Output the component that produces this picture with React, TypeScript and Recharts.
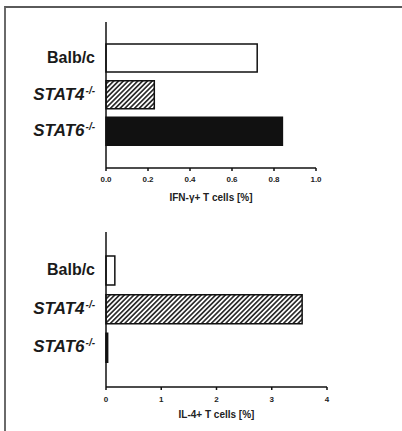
import React from 'react';
import { BarChart, Bar, XAxis, YAxis, Cell } from 'recharts';

// strains on the y axis, knockouts get an italic name with a -/- superscript
const strainNames = ['Balb/c', 'STAT4', 'STAT6'];
const strainSup = ['', '-/-', '-/-'];

// IFN-gamma+ T cells [%]
const ifnValues = [0.72, 0.23, 0.84];
const ifnTicks = [0, 0.2, 0.4, 0.6, 0.8, 1.0];

// IL-4+ T cells [%]
const il4Values = [0.16, 3.55, 0.03];
const il4Ticks = [0, 1, 2, 3, 4];

const barFills = ['#ffffff', 'url(#hatch)', '#111111'];

const ifnData = strainNames.map((name, i) => ({ name, value: ifnValues[i] }));
const il4Data = strainNames.map((name, i) => ({ name, value: il4Values[i] }));

const StrainTick = (props: any) => {
    const { x, y, payload } = props;
    const i = strainNames.indexOf(payload.value);
    const sup = strainSup[i];
    return (
        <text
            x={x}
            y={y}
            dy={4.5}
            textAnchor="end"
            fill="#1a1a1a"
            fontSize={sup ? 17 : 16}
            fontWeight="bold"
            fontStyle={sup ? 'italic' : 'normal'}
        >
            <tspan>{payload.value}</tspan>
            {sup && (
                <tspan fontSize={10} dx={1} dy={-6}>{sup}</tspan>
            )}
        </text>
    );
};

const axisStroke = { stroke: '#111', strokeWidth: 1.5 };

const App = () => {
    return (
        <div
            style={{
                position: 'absolute',
                left: 0,
                top: 0,
                width: 402,
                height: 431,
                background: '#fff',
                fontFamily: '"Liberation Sans", Arial, sans-serif',
                overflow: 'hidden',
            }}
        >
            {/* hatch fill used by the STAT4 bars */}
            <svg width={0} height={0} style={{ position: 'absolute' }}>
                <defs>
                    <pattern id="hatch" width={3.4} height={3.4} patternUnits="userSpaceOnUse" patternTransform="rotate(45)">
                        <rect width={3.4} height={3.4} fill="#fff" />
                        <line x1={1.7} y1={0} x2={1.7} y2={3.4} stroke="#111" strokeWidth={1.5} />
                    </pattern>
                </defs>
            </svg>

            {/* frame */}
            <div
                style={{
                    position: 'absolute',
                    left: 4,
                    top: 6,
                    width: 398,
                    height: 425,
                    borderTop: '2px solid #5a5a5a',
                    borderLeft: '2px solid #6a6a6a',
                    boxSizing: 'border-box',
                }}
            />

            {/* IFN-gamma chart */}
            <div style={{ position: 'absolute', left: 0, top: 0 }}>
                <BarChart
                    width={402}
                    height={215}
                    data={ifnData}
                    layout="vertical"
                    margin={{ top: 22, right: 86, bottom: 0, left: 0 }}
                >
                    <XAxis
                        type="number"
                        domain={[0, 1]}
                        ticks={ifnTicks}
                        tickFormatter={(v: number) => v.toFixed(1)}
                        height={47}
                        tickSize={3}
                        tickMargin={5}
                        axisLine={axisStroke}
                        tickLine={axisStroke}
                        tick={{ fontSize: 8, fontWeight: 'bold', fill: '#222' }}
                        label={{
                            value: 'IFN-γ+ T cells [%]',
                            position: 'insideBottom',
                            offset: 14,
                            fontSize: 10,
                            fontWeight: 'bold',
                            fill: '#222',
                        }}
                    />
                    <YAxis
                        type="category"
                        dataKey="name"
                        width={106}
                        padding={{ top: 18, bottom: 18 }}
                        axisLine={axisStroke}
                        tickLine={false}
                        tickSize={0}
                        tickMargin={11}
                        tick={<StrainTick />}
                    />
                    <Bar dataKey="value" barSize={28} stroke="#111" strokeWidth={1.5} isAnimationActive={false}>
                        {ifnData.map((entry, index) => (
                            <Cell key={`ifn-${index}`} fill={barFills[index]} />
                        ))}
                    </Bar>
                </BarChart>
            </div>

            {/* IL-4 chart */}
            <div style={{ position: 'absolute', left: 0, top: 215 }}>
                <BarChart
                    width={402}
                    height={216}
                    data={il4Data}
                    layout="vertical"
                    margin={{ top: 17, right: 75, bottom: 0, left: 0 }}
                >
                    <XAxis
                        type="number"
                        domain={[0, 4]}
                        ticks={il4Ticks}
                        height={44}
                        tickSize={3}
                        tickMargin={6}
                        axisLine={axisStroke}
                        tickLine={axisStroke}
                        tick={{ fontSize: 8, fontWeight: 'bold', fill: '#222' }}
                        label={{
                            value: 'IL-4+ T cells [%]',
                            position: 'insideBottom',
                            offset: 13,
                            fontSize: 10,
                            fontWeight: 'bold',
                            fill: '#222',
                        }}
                    />
                    <YAxis
                        type="category"
                        dataKey="name"
                        width={106}
                        padding={{ top: 19, bottom: 20 }}
                        axisLine={axisStroke}
                        tickLine={false}
                        tickSize={0}
                        tickMargin={11}
                        tick={<StrainTick />}
                    />
                    <Bar dataKey="value" barSize={29} stroke="#111" strokeWidth={1.5} isAnimationActive={false}>
                        {il4Data.map((entry, index) => (
                            <Cell key={`il4-${index}`} fill={barFills[index]} />
                        ))}
                    </Bar>
                </BarChart>
            </div>
        </div>
    );
};

export default App;
